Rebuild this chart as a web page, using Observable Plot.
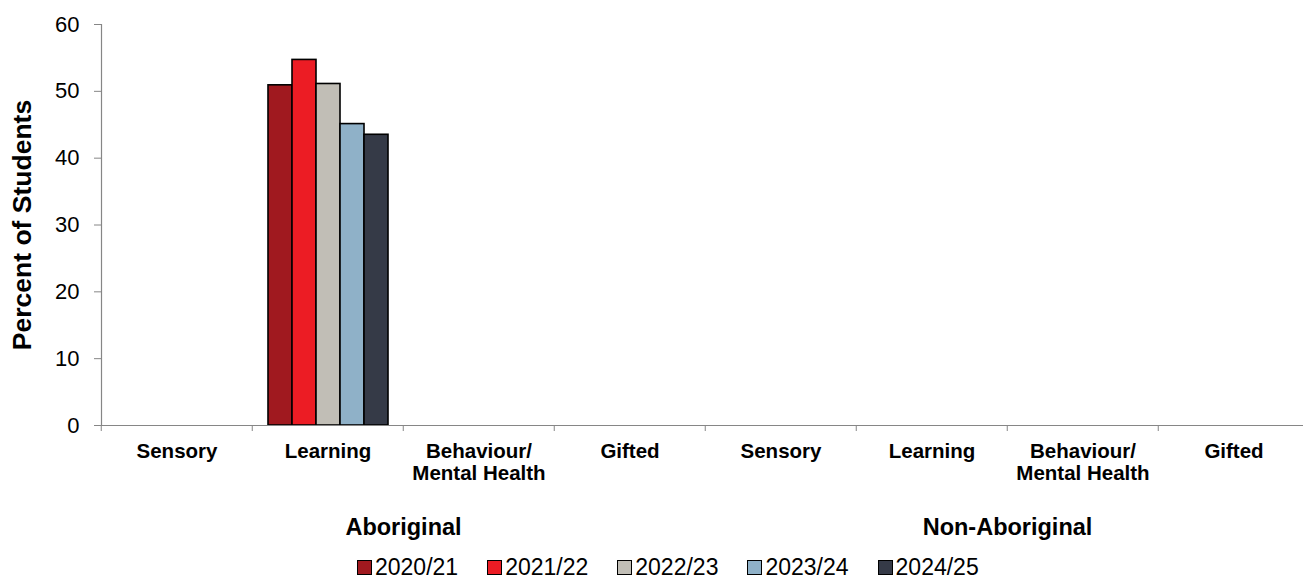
<!DOCTYPE html>
<html>
<head>
<meta charset="utf-8">
<script src="https://cdn.jsdelivr.net/npm/d3@7"></script>
<script src="https://cdn.jsdelivr.net/npm/@observablehq/plot@0.6"></script>
<style>
  html, body { margin: 0; padding: 0; background: #fff; overflow: hidden; }
  body { width: 1303px; height: 578px; font-family: "Liberation Sans", Arial, sans-serif; }
  #legend { display: flex; justify-content: flex-start; padding-left: 357px; font-size: 23px; line-height: 20px; height: 20px; padding-top: 17px; color: #000; }
  #legend .item { display: flex; align-items: center; margin-right: 29px; }
  #legend .sw { width: 13px; height: 13px; border: 1.5px solid #000; margin-right: 3px; box-sizing: content-box; }
</style>
</head>
<body>
<div id="chart"></div>
<div id="legend"></div>
<script>
const groups = ["Aboriginal", "Non-Aboriginal"];
const categories = ["Sensory", "Learning", "Behaviour/\nMental Health", "Gifted"];
const years = ["2020/21", "2021/22", "2022/23", "2023/24", "2024/25"];
const colors = ["#A0191F", "#EC1C24", "#C1BEB6", "#8FB1C8", "#353A47"];
const yTicks = [0, 10, 20, 30, 40, 50, 60];

// values by year for each group and category (null = no bar)
const aboriginalSensory = [null, null, null, null, null];
const aboriginalLearning = [50.9, 54.7, 51.1, 45.1, 43.5];
const aboriginalBehaviour = [null, null, null, null, null];
const aboriginalGifted = [null, null, null, null, null];
const nonAboriginalSensory = [null, null, null, null, null];
const nonAboriginalLearning = [null, null, null, null, null];
const nonAboriginalBehaviour = [null, null, null, null, null];
const nonAboriginalGifted = [null, null, null, null, null];

const series = [
  [aboriginalSensory, aboriginalLearning, aboriginalBehaviour, aboriginalGifted],
  [nonAboriginalSensory, nonAboriginalLearning, nonAboriginalBehaviour, nonAboriginalGifted]
];

const keys = [];
const keyLabel = new Map();
const data = [];
groups.forEach((g, gi) => {
  categories.forEach((c, ci) => {
    const key = g + "|" + c;
    keys.push(key);
    keyLabel.set(key, c);
    years.forEach((y, yi) => {
      data.push({key, group: g, category: c, year: y, value: series[gi][ci][yi]});
    });
  });
});

const groupLabels = [
  {key: keys[2], label: groups[0]},
  {key: keys[6], label: groups[1]}
];

const W = 1303, H = 540;
const mL = 99, mR = -8, mT = 24, mB = 115;
const facetW = (W - mL - mR) / keys.length;
const axisColor = "#868686";

const chart = Plot.plot({
  width: W,
  height: H,
  marginLeft: mL,
  marginRight: mR,
  marginTop: mT,
  marginBottom: mB,
  style: {fontFamily: '"Liberation Sans", Arial, sans-serif', color: "#000", background: "#fff", overflow: "visible"},
  fx: {domain: keys, padding: 0, label: null},
  x: {domain: years, paddingInner: 0, paddingOuter: 0.55, axis: null},
  y: {domain: [0, 60], label: null},
  color: {domain: years, range: colors},
  marks: [
    Plot.barY(data, {fx: "key", x: "year", y: "value", fill: "year", stroke: "#000", strokeWidth: 1.6}),
    Plot.ruleY([0], {stroke: axisColor, strokeWidth: 1.2}),
    Plot.frame({anchor: "left", facet: "super", stroke: axisColor, strokeWidth: 1.2}),
    Plot.axisY({ticks: yTicks, tickSize: 7, tickPadding: 15, fontSize: 22, stroke: axisColor, label: null, tickFormat: d3.format("d")}),
    Plot.axisFx({anchor: "bottom", tickSize: 0, tickPadding: 16, fontSize: 20.5, fontWeight: "bold", lineHeight: 1.1, label: null, tickFormat: k => keyLabel.get(k)}),
    Plot.axisFx({anchor: "bottom", tickSize: 6, tickPadding: 0, stroke: axisColor, label: null, tickFormat: () => "", dx: -facetW / 2}),
    Plot.text(groupLabels, {fx: "key", text: "label", frameAnchor: "bottom-left", textAnchor: "middle", lineAnchor: "middle", dy: 102, fontSize: 23.5, fontWeight: "bold", fill: "#000"}),
    Plot.text([{key: keys[0], label: "Percent of Students"}], {fx: "key", text: "label", frameAnchor: "left", rotate: -90, textAnchor: "middle", lineAnchor: "middle", dx: -79, fontSize: 26.5, fontWeight: "bold", fill: "#000"})
  ]
});
document.getElementById("chart").appendChild(chart);

const legend = document.getElementById("legend");
years.forEach((y, i) => {
  const item = document.createElement("div");
  item.className = "item";
  const sw = document.createElement("span");
  sw.className = "sw";
  sw.style.background = colors[i];
  const t = document.createElement("span");
  t.textContent = y;
  item.appendChild(sw);
  item.appendChild(t);
  legend.appendChild(item);
});
</script>
</body>
</html>
